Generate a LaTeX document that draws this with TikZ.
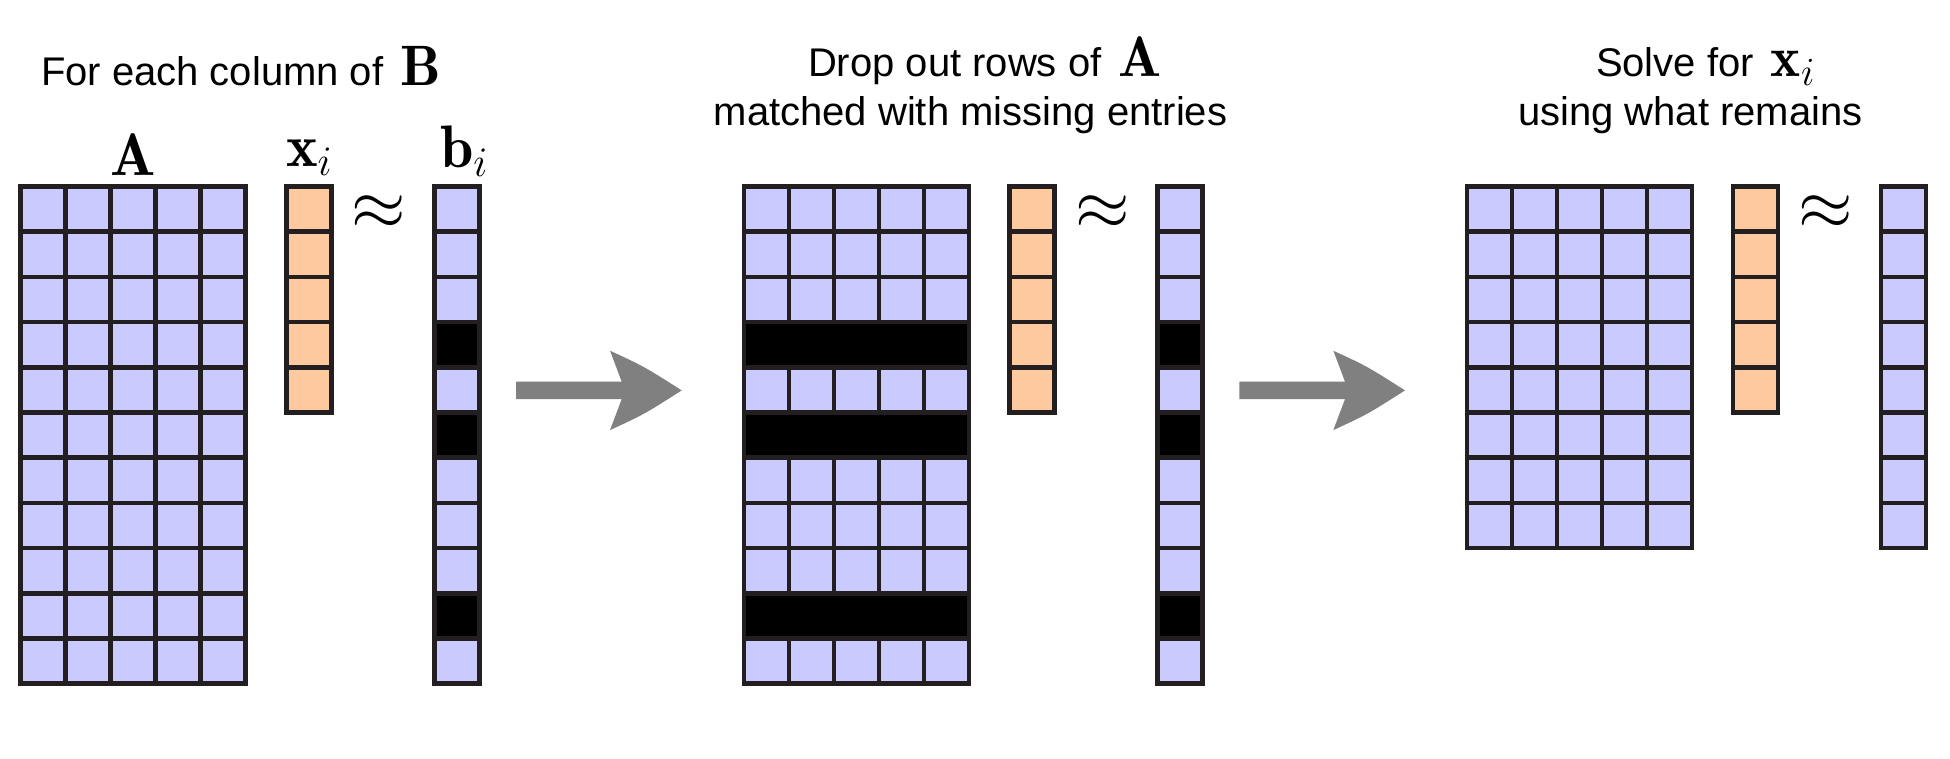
\RequirePackage{fix-cm}
\documentclass[tikz,border=0pt]{standalone}
\usepackage{fontspec}
\setsansfont{Liberation Sans}
\definecolor{cellblue}{HTML}{CACAFE}
\definecolor{cellorange}{HTML}{FFC9A0}
\definecolor{gridline}{HTML}{231F20}
\definecolor{arrowgray}{HTML}{808080}
\tikzset{
  cellbase/.style={draw=gridline, line width=4.6pt},
  cellA/.style={cellbase, fill=cellblue},
  cellX/.style={cellbase, fill=cellorange},
  cellM/.style={cellbase, fill=black},
  txt/.style={inner sep=0pt, outer sep=0pt, anchor=base west, font=\fontsize{40}{48}\selectfont\sffamily},
  mathlbl/.style={inner sep=0pt, outer sep=0pt, font=\fontsize{60}{64}\selectfont},
  approxsym/.style={inner sep=0pt, outer sep=0pt, font=\fontsize{70}{74}\selectfont},
  fatarrow/.pic={
    \fill[arrowgray] (0,-8.7) -- (105.7,-8.7) .. controls (100,-24) .. (94,-39.7)
      .. controls (128,-24) .. (165.7,0) .. controls (128,24) .. (94,39.7)
      .. controls (100,24) .. (105.7,8.7) -- (0,8.7) -- cycle;
  }
}
\newcommand\tmath[1]{{\fontsize{57}{60}\selectfont$\mathbf{#1}$}}
\begin{document}
\begin{tikzpicture}[x=1pt,y=-1pt]
\useasboundingbox (0,0) rectangle (1950,758);
\def\cw{45}
\def\ch{45.2}
% ---------- titles ----------
\node[txt] (title1) at (41,85) {For each column of\hspace{6pt} \tmath{B}};
\node[txt] (title2a) at (808,76.7) {Drop out rows of\hspace{6pt} \tmath{A}};
\node[txt] (title2b) at (713.7,125) {matched with missing entries};
\node[txt] (title3a) at (1596,76.7) {Solve for\hspace{6pt} {\fontsize{57}{60}\selectfont$\mathbf{x}_i$}};
\node[txt] (title3b) at (1518,125) {using what remains};
% ---------- panel 1 ----------
\foreach \r in {0,...,10}{\foreach \c in {0,...,4}{
  \filldraw[cellA] ({20.5+\cw*\c},{186.5+\ch*\r}) rectangle ++(\cw,\ch);}}
\foreach \r in {0,...,4}{
  \filldraw[cellX] (286.2,{186.5+\ch*\r}) rectangle ++(\cw,\ch);}
\foreach \r/\f in {0/cellblue,1/cellblue,2/cellblue,3/black,4/cellblue,5/black,6/cellblue,7/cellblue,8/cellblue,9/black,10/cellblue}{
  \filldraw[cellbase, fill=\f] (434.2,{186.5+\ch*\r}) rectangle ++(\cw,\ch);}
\node[mathlbl, anchor=base] (labA) at (133.5,175) {$\mathbf{A}$};
\node[mathlbl, anchor=base west] (labx) at (286,166) {$\mathbf{x}_i$};
\node[mathlbl, anchor=base west] (labb) at (440,167) {$\mathbf{b}_i$};
\node[approxsym] (approx1) at (379,213) {$\approx$};
% ---------- arrow 1 ----------
\pic (arr1) at (516,390.4) {fatarrow};
% ---------- panel 2 ----------
\foreach \r in {0,...,10}{\foreach \c in {0,...,4}{
  \filldraw[cellA] ({743.8+\cw*\c},{186.5+\ch*\r}) rectangle ++(\cw,\ch);}}
\foreach \r in {3,5,9}{
  \filldraw[cellM] (743.8,{186.5+\ch*\r}) rectangle ++({5*\cw},\ch);}
\foreach \r in {0,...,4}{
  \filldraw[cellX] (1009.5,{186.5+\ch*\r}) rectangle ++(\cw,\ch);}
\foreach \r/\f in {0/cellblue,1/cellblue,2/cellblue,3/black,4/cellblue,5/black,6/cellblue,7/cellblue,8/cellblue,9/black,10/cellblue}{
  \filldraw[cellbase, fill=\f] (1157.5,{186.5+\ch*\r}) rectangle ++(\cw,\ch);}
\node[approxsym] (approx2) at (1102.3,213) {$\approx$};
% ---------- arrow 2 ----------
\pic (arr2) at (1239.3,390.4) {fatarrow};
% ---------- panel 3 ----------
\foreach \r in {0,...,7}{\foreach \c in {0,...,4}{
  \filldraw[cellA] ({1467.1+\cw*\c},{186.5+\ch*\r}) rectangle ++(\cw,\ch);}}
\foreach \r in {0,...,4}{
  \filldraw[cellX] (1732.8,{186.5+\ch*\r}) rectangle ++(\cw,\ch);}
\foreach \r in {0,...,7}{
  \filldraw[cellA] (1880.8,{186.5+\ch*\r}) rectangle ++(\cw,\ch);}
\node[approxsym] (approx3) at (1825.6,213) {$\approx$};
\end{tikzpicture}
\end{document}
